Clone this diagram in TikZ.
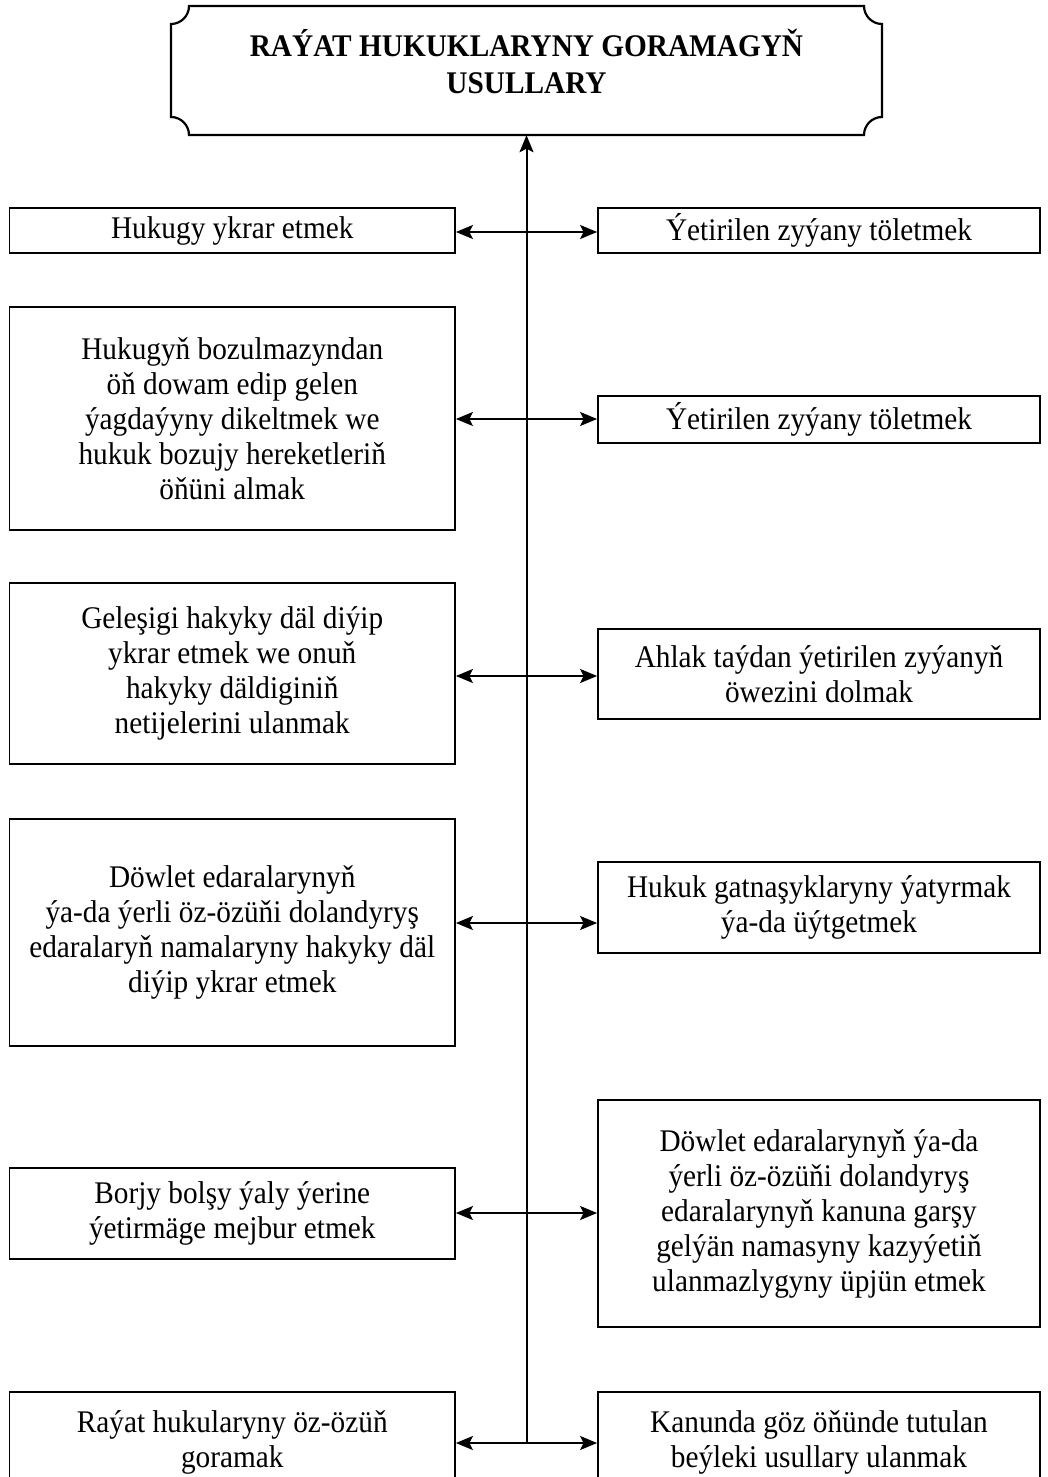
\documentclass[tikz,border=0pt]{standalone}
\usepackage{fontspec}
\setmainfont{Liberation Serif}[FakeStretch=0.93]
\usetikzlibrary{arrows.meta}
\begin{document}
\begin{tikzpicture}[x=1pt,y=-1pt,
  box/.style={draw, line width=1.8pt, align=center, inner sep=0pt,
    font=\fontsize{31.5}{35}\selectfont},
  lbox/.style={box, minimum width=445.5pt},
  rbox/.style={box, minimum width=442pt},
  tip/.tip={Stealth[length=17pt,width=14pt,inset=3.5pt]},
  link/.style={line width=2pt, tip-tip},
  spine/.style={line width=2pt, -tip},
]
\useasboundingbox (0,0) rectangle (1048,1477);
\clip (0,0) rectangle (1048,1477);

% title frame
\node[inner sep=0pt, minimum width=711pt, minimum height=129pt] (title) at (526.5,70.5) {};
\draw[line width=2.2pt] (189,6) -- (864,6) .. controls (864,15.9) and (872.1,24) .. (882,24)
  -- (882,117) .. controls (872.1,117) and (864,125.1) .. (864,135)
  -- (189,135) .. controls (189,125.1) and (180.9,117) .. (171,117)
  -- (171,24) .. controls (180.9,24) and (189,15.9) .. (189,6) -- cycle;
\node[align=center, inner sep=0pt, font=\bfseries\fontsize{31.5}{37}\selectfont] (tt) at (526.5,61)
  {RAÝAT HUKUKLARYNY GORAMAGYŇ\\USULLARY};

% boxes
\node[lbox, minimum height=45.5pt] (l1) at (232.25,230.5) {Hukugy ykrar etmek};
\node[rbox, minimum height=45.5pt] (r1) at (819,230.5) {Ýetirilen zyýany töletmek};

\node[lbox, minimum height=223pt] (l2) at (232.25,418.5) {Hukugyň bozulmazyndan\\öň dowam edip gelen\\ýagdaýyny dikeltmek we\\hukuk bozujy hereketleriň\\öňüni almak};
\node[rbox, minimum height=47pt] (r2) at (819,419.5) {Ýetirilen zyýany töletmek};

\node[lbox, minimum height=181pt] (l3) at (232.25,673.5) {Geleşigi hakyky däl diýip\\ykrar etmek we onuň\\hakyky däldiginiň\\netijelerini ulanmak};
\node[rbox, minimum height=90pt] (r3) at (819,674) {Ahlak taýdan ýetirilen zyýanyň\\öwezini dolmak};

\node[lbox, minimum height=227pt] (l4) at (232.25,932.5) {Döwlet edaralarynyň\\ýa-da ýerli öz-özüňi dolandyryş\\edaralaryň namalaryny hakyky däl\\diýip ykrar etmek};
\node[rbox, minimum height=91pt] (r4) at (819,907.5) {Hukuk gatnaşyklaryny ýatyrmak\\ýa-da üýtgetmek};

\node[lbox, minimum height=91pt] (l5) at (232.25,1213.5) {Borjy bolşy ýaly ýerine\\ýetirmäge mejbur etmek};
\node[rbox, minimum height=227pt] (r5) at (819,1213.5) {Döwlet edaralarynyň ýa-da\\ýerli öz-özüňi dolandyryş\\edaralarynyň kanuna garşy\\gelýän namasyny kazyýetiň\\ulanmazlygyny üpjün etmek};

\node[lbox, minimum height=100pt] (l6) at (232.25,1442) {Raýat hukularyny öz-özüň\\goramak};
\node[rbox, minimum height=100pt] (r6) at (819,1442) {Kanunda göz öňünde tutulan\\beýleki usullary ulanmak};

% spine and links
\coordinate (a1) at (526.5,232);
\coordinate (a2) at (526.5,419);
\coordinate (a3) at (526.5,676);
\coordinate (a4) at (526.5,923);
\coordinate (a5) at (526.5,1213);
\coordinate (a6) at (526.5,1443);

\draw[spine] (a6) -- (title.south);
\draw[link] (l1.east |- a1) -- (r1.west |- a1);
\draw[link] (l2.east |- a2) -- (r2.west |- a2);
\draw[link] (l3.east |- a3) -- (r3.west |- a3);
\draw[link] (l4.east |- a4) -- (r4.west |- a4);
\draw[link] (l5.east |- a5) -- (r5.west |- a5);
\draw[link] (l6.east |- a6) -- (r6.west |- a6);
\end{tikzpicture}
\end{document}
